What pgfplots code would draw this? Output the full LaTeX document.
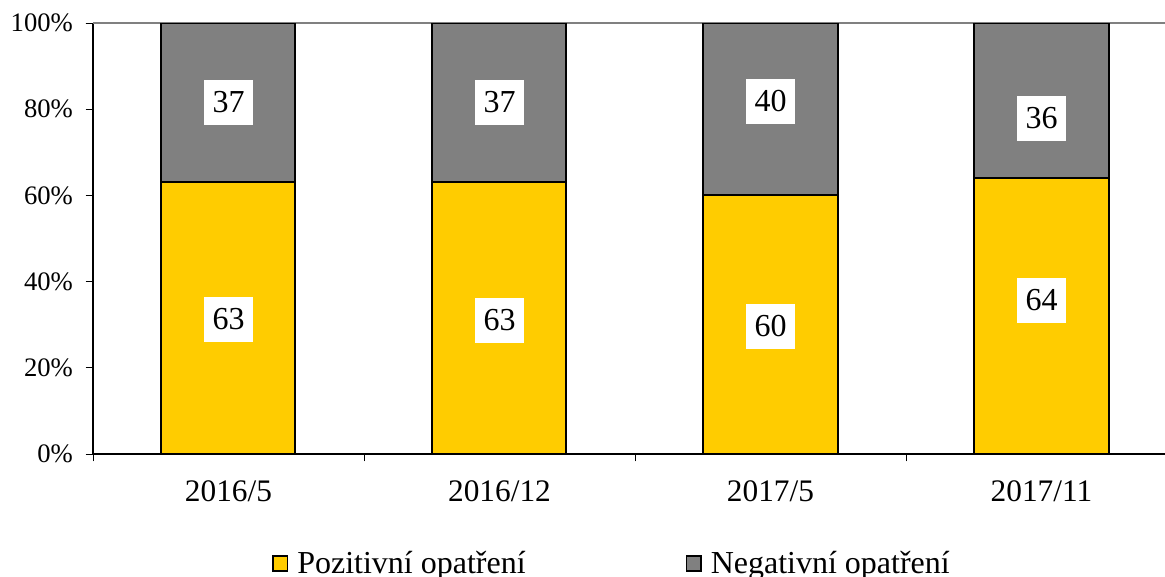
\documentclass[border=0pt]{standalone}
\usepackage{fontspec}
\setmainfont{Liberation Serif}
\usepackage{pgfplots}
\pgfplotsset{compat=1.18}
\definecolor{pos}{HTML}{FFCC00}
\definecolor{neg}{HTML}{808080}

\begin{document}
\begin{tikzpicture}
\useasboundingbox (0,0) rectangle (873.75pt,432pt);
\begin{axis}[
  at={(69.75pt,91.5pt)}, anchor=south west,
  scale only axis, width=813pt, height=323.25pt,
  ybar stacked, bar width=100.5pt,
  xmin=-0.5, xmax=3.5, ymin=0, ymax=100,
  axis x line*=bottom, axis y line*=left,
  axis line style={-, black, line width=0.9pt},
  xtick={-0.5,0.5,1.5,2.5,3.5}, xticklabels={},
  extra x ticks={0,1,2,3},
  extra x tick labels={2016/5,2016/12,2017/5,2017/11},
  extra x tick style={major tick length=0pt},
  ytick={0,20,40,60,80,100},
  yticklabels={0\%,20\%,40\%,60\%,80\%,100\%},
  extra y ticks={100}, extra y tick labels={},
  extra y tick style={grid=major, major grid style={draw=gray, line width=0.8pt}},
  tick align=outside, major tick length=5.5pt,
  tick style={black, line width=0.6pt},
  yticklabel style={font=\fontsize{20pt}{23pt}\selectfont, xshift=-6pt},
  xticklabel style={font=\fontsize{23.5pt}{27pt}\selectfont, yshift=-16.5pt},
  legend columns=2,
  legend style={draw=none, fill=none, at={(0.165,-0.254)}, anchor=west, inner sep=0pt,
    font=\fontsize{24pt}{28pt}\selectfont,
    /tikz/every even column/.append style={column sep=118pt}},
  legend image code/.code={\draw[#1, line width=1.2pt] (0pt,-5.5pt) rectangle (11pt,5.5pt);
    \path (15.5pt,0pt);},
]
\addplot[fill=pos, draw=black, line width=1.5pt] coordinates {(0,63) (1,63) (2,60) (3,64)};
\addplot[fill=neg, draw=black, line width=1.5pt] coordinates {(0,37) (1,37) (2,40) (3,36)};
\legend{Pozitivní opatření, Negativní opatření}
\end{axis}
\begin{axis}[
  at={(69.75pt,91.5pt)}, anchor=south west,
  scale only axis, width=813pt, height=323.25pt,
  xmin=-0.5, xmax=3.5, ymin=0, ymax=100, hide axis]
\addplot[draw=none, mark=none, nodes near coords, point meta=explicit symbolic,
  nodes near coords align={center},
  nodes near coords style={fill=white, text=black, anchor=center, inner xsep=6.4pt, inner ysep=8.8pt,
    font=\fontsize{24pt}{28pt}\selectfont}]
  coordinates {(0,81.55)[37] (1,81.55)[37] (2,81.79)[40] (3,77.84)[36]
               (0,31.21)[63] (1,31.0)[63] (2,29.58)[60] (3,35.61)[64]};
\end{axis}
\end{tikzpicture}
\end{document}
